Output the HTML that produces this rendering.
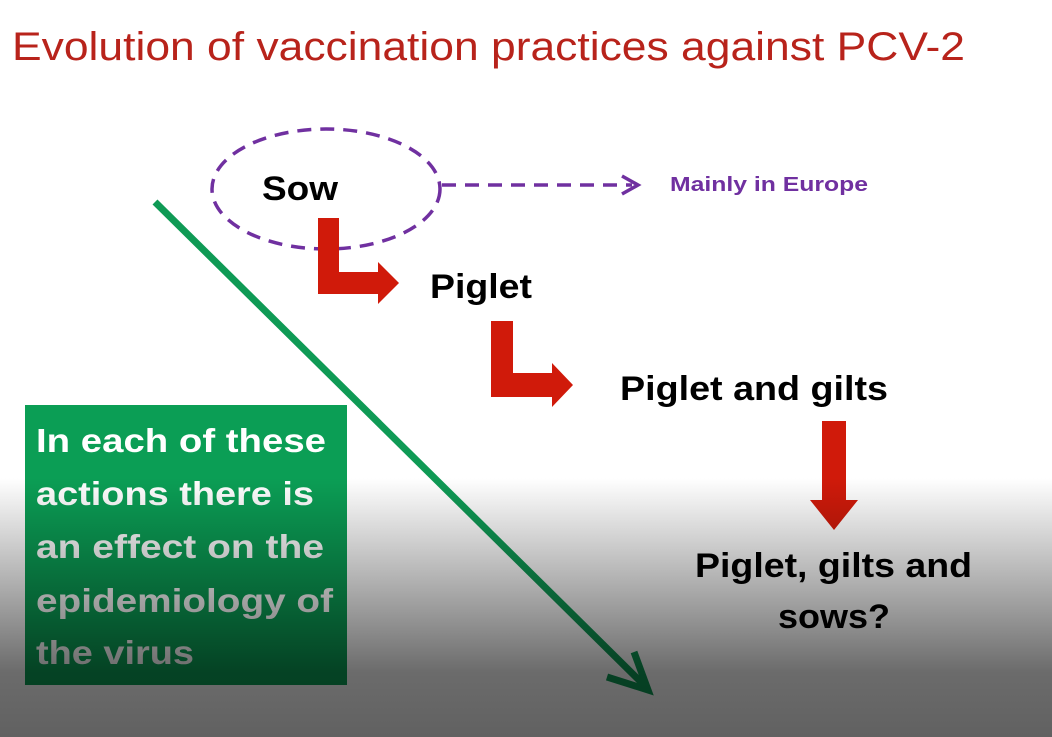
<!DOCTYPE html>
<html><head><meta charset="utf-8"><style>
html,body{margin:0;padding:0;background:#fff;}
svg{display:block;}
</style></head><body>
<svg width="1052" height="737" viewBox="0 0 1052 737" xmlns="http://www.w3.org/2000/svg">
<defs>
<linearGradient id="shade" x1="0" y1="0" x2="0" y2="1">
<stop offset="0" stop-color="#000" stop-opacity="0"/>
<stop offset="0.75" stop-color="#000" stop-opacity="0.58"/>
<stop offset="1" stop-color="#000" stop-opacity="0.62"/>
</linearGradient>
</defs>
<rect width="1052" height="737" fill="#fff"/>
<text x="12" y="60" font-family="Liberation Sans, sans-serif" font-size="40" fill="#b8231b" textLength="953" lengthAdjust="spacingAndGlyphs">Evolution of vaccination practices against PCV-2</text>

<ellipse cx="326" cy="189" rx="114" ry="60" fill="none" stroke="#7030a0" stroke-width="3.5" stroke-dasharray="14 9"/>
<line x1="442" y1="185" x2="632" y2="185" stroke="#7030a0" stroke-width="3.5" stroke-dasharray="14 9"/>
<polyline points="622,176 638,185 622,194" fill="none" stroke="#7030a0" stroke-width="3.5"/>
<text x="670" y="191" font-family="Liberation Sans, sans-serif" font-weight="bold" font-size="20" fill="#7030a0" textLength="198" lengthAdjust="spacingAndGlyphs">Mainly in Europe</text>

<text x="262" y="200" font-family="Liberation Sans, sans-serif" font-weight="bold" font-size="34" fill="#000" textLength="76" lengthAdjust="spacingAndGlyphs">Sow</text>
<polygon points="318,218 339,218 339,272 378,272 378,262 399,283 378,304 378,294 318,294" fill="#d01a0a"/>
<text x="430" y="298" font-family="Liberation Sans, sans-serif" font-weight="bold" font-size="34" fill="#000" textLength="102" lengthAdjust="spacingAndGlyphs">Piglet</text>
<polygon points="491,321 513,321 513,373 552,373 552,363 573,385 552,407 552,397 491,397" fill="#d01a0a"/>
<text x="620" y="400" font-family="Liberation Sans, sans-serif" font-weight="bold" font-size="34" fill="#000" textLength="268" lengthAdjust="spacingAndGlyphs">Piglet and gilts</text>
<polygon points="822,421 846,421 846,500 858,500 834,530 810,500 822,500" fill="#d01a0a"/>
<text x="695" y="577" font-family="Liberation Sans, sans-serif" font-weight="bold" font-size="34" fill="#000" textLength="277" lengthAdjust="spacingAndGlyphs">Piglet, gilts and</text>
<text x="778" y="628" font-family="Liberation Sans, sans-serif" font-weight="bold" font-size="34" fill="#000" textLength="112" lengthAdjust="spacingAndGlyphs">sows?</text>

<line x1="155" y1="202" x2="645" y2="686" stroke="#0f9a55" stroke-width="7"/>
<polyline points="634,652 648,690 607,677" fill="none" stroke="#0f9a55" stroke-width="7"/>

<rect x="25" y="405" width="322" height="280" fill="#0b9e55"/>
<g font-family="Liberation Sans, sans-serif" font-weight="bold" font-size="33" fill="#fff">
<text x="36" y="452" textLength="290" lengthAdjust="spacingAndGlyphs">In each of these</text>
<text x="36" y="505" textLength="278" lengthAdjust="spacingAndGlyphs">actions there is</text>
<text x="36" y="558" textLength="288" lengthAdjust="spacingAndGlyphs">an effect on the</text>
<text x="36" y="612" textLength="297" lengthAdjust="spacingAndGlyphs">epidemiology of</text>
<text x="36" y="664" textLength="158" lengthAdjust="spacingAndGlyphs">the virus</text>
</g>

<rect x="0" y="478" width="1052" height="259" fill="url(#shade)"/>
</svg>
</body></html>
